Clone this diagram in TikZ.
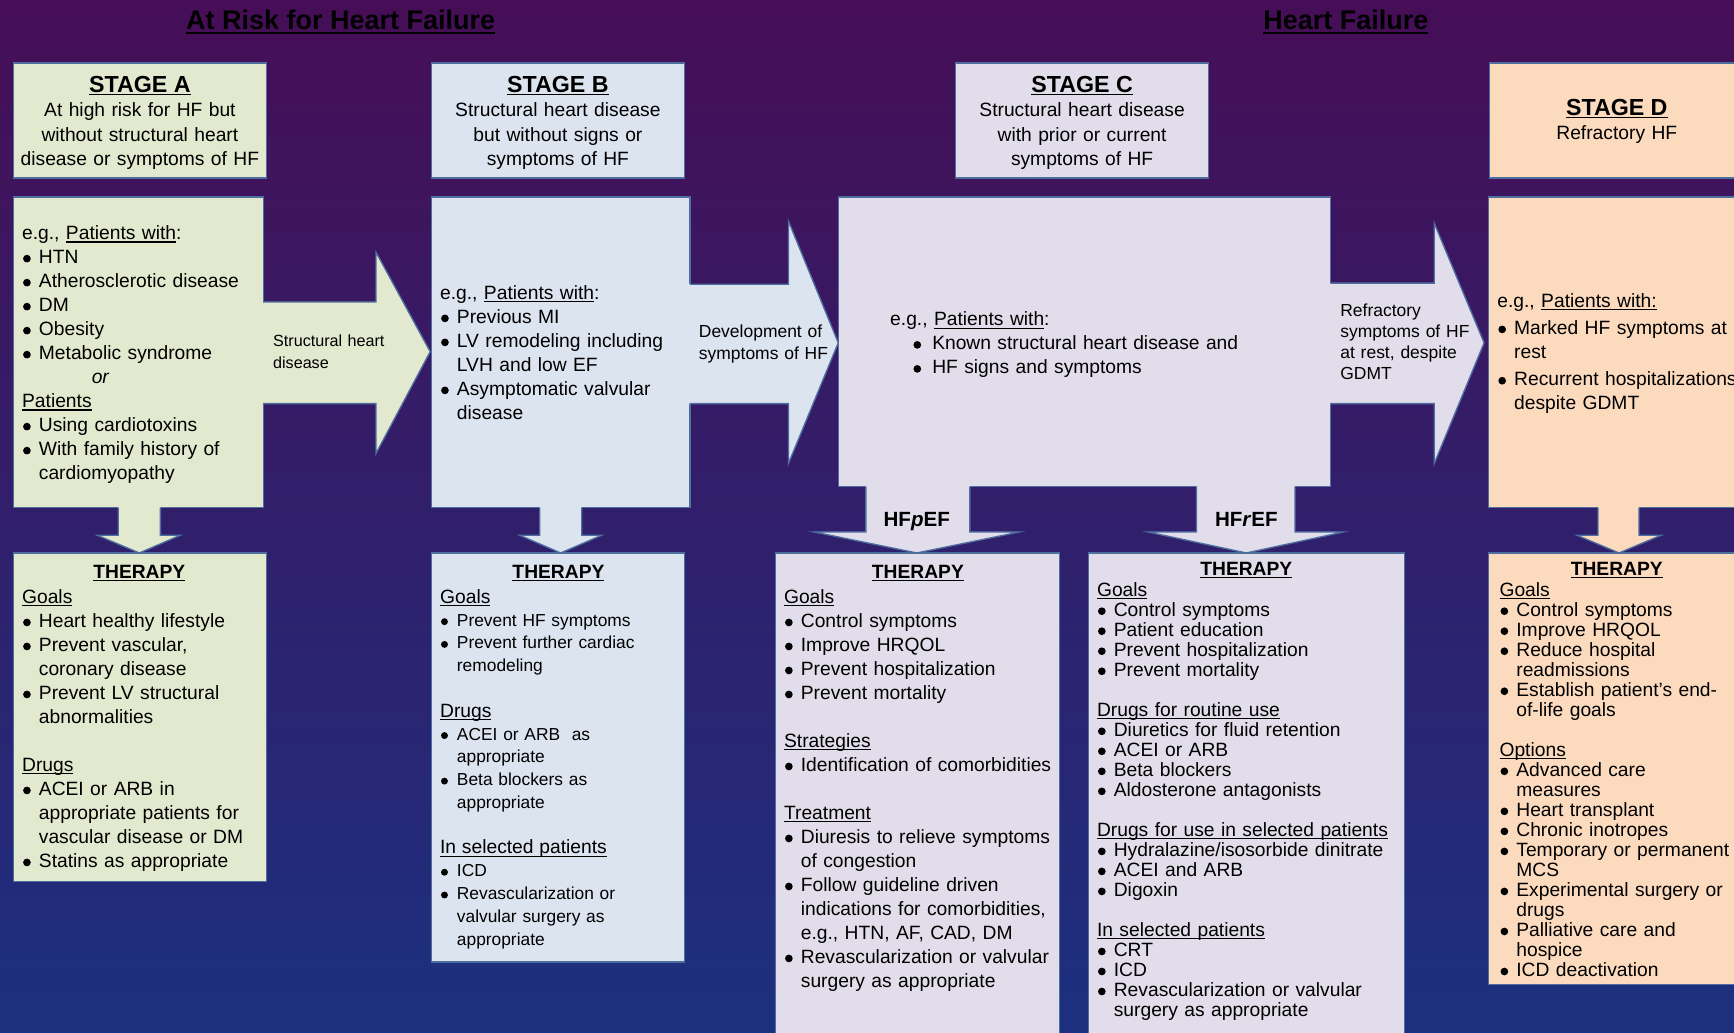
\documentclass[tikz,border=0pt]{standalone}
\usepackage{fontspec}
\setmainfont{Liberation Sans}
\usetikzlibrary{fit}

\definecolor{bgtop}{RGB}{70,14,86}
\definecolor{bgmid}{RGB}{48,24,98}
\definecolor{bgbot}{RGB}{28,48,128}
\definecolor{cA}{RGB}{226,233,207}
\definecolor{cB}{RGB}{220,228,240}
\definecolor{cC}{RGB}{226,221,234}
\definecolor{cD}{RGB}{252,218,190}
\definecolor{edge}{RGB}{79,110,160}

\newlength\bi \setlength\bi{7.6pt}
\newcommand\tp{\rule{0pt}{8pt}}
\newcommand\uln[2][0.5pt]{\setbox0\hbox{#2}\rlap{\rule[-1.3pt]{\wd0}{#1}}\box0}
\newcommand\ulnb[1]{\setbox0\hbox{#1}\rlap{\rule[-2pt]{\wd0}{0.9pt}}\box0}
\newcommand\bdot{\raisebox{0.06em}{\tikz\fill[black] (0,0) circle[radius=0.2em];}}
\newcommand\lnx[1]{\par\noindent#1}
\newcommand\bul[1]{\par\noindent\makebox[\bi][l]{\hspace{0.05em}\bdot}#1}
\newcommand\bulC[1]{\par\noindent\hspace*{10.5pt}\makebox[8.5pt][l]{\bdot}#1}
\newcommand\cnt[1]{\par\noindent\hspace*{\bi}#1}
\newcommand\blank{\par\noindent\mbox{}}
\newcommand\fbody{\fontsize{8.7}{10.85}\selectfont}
\newcommand\fhead{\fontsize{8.7}{11}\selectfont}
\newcommand\ftight{\fontsize{8.7}{9.05}\selectfont}
\newcommand\fsmall{\fontsize{7.85}{10.3}\selectfont}
\newcommand\fhd{\fontsize{8.7}{10.3}\selectfont}
\newcommand\fstage{\fontsize{10.5}{11}\selectfont\bfseries}
\newcommand\ftitle{\fontsize{12.2}{14}\selectfont\bfseries}

\tikzset{
  bx/.style={draw=edge, line width=0.6pt, inner sep=0pt, outer sep=0pt},
  tb/.style={anchor=north west, inner sep=0pt, outer sep=0pt, text width=220pt, align=left, font=\fbody},
  hd/.style={anchor=north, inner sep=0pt, outer sep=0pt, text width=125pt, align=center, font=\fhead},
  lab/.style={anchor=north west, inner sep=0pt, outer sep=0pt, text width=80pt, align=left},
  arr/.style={draw=edge, line width=0.6pt},
  thr/.style={anchor=base, inner sep=0pt, font=\fbody\bfseries},
}

\begin{document}
\begin{tikzpicture}[x=0.5pt,y=-0.5pt]
\useasboundingbox (0,0) rectangle (1568,934);
\clip (0,0) rectangle (1568,934);
\shade[top color=bgtop, middle color=bgmid, bottom color=bgbot] (0,0) rectangle (1568,934);

% titles
\node[anchor=base, font=\ftitle, inner sep=0pt] (t1) at (308,27) {\ulnb{At Risk for Heart Failure}};
\node[anchor=base, font=\ftitle, inner sep=0pt] (t2) at (1217,27) {\ulnb{Heart Failure}};

% header boxes
\node[bx, fill=cA, fit={(12,57)(241,161)}] (hA) {};
\node[bx, fill=cB, fit={(390,57)(619,161)}] (hB) {};
\node[bx, fill=cC, fit={(864,57)(1093,161)}] (hC) {};
\node[bx, fill=cD, fit={(1347,57)(1600,161)}] (hD) {};

% content boxes
\node[bx, fill=cA, fit={(12,178)(238,459)}] (cA) {};
\node[bx, fill=cB, fit={(390,178)(624,459)}] (cB) {};
\node[bx, fill=cC, fit={(758,178)(1203,440)}] (cC) {};
\node[bx, fill=cD, fit={(1346,178)(1600,459)}] (cD) {};

% therapy boxes
\node[bx, fill=cA, fit={(12,500)(241,797)}] (thA) {};
\node[bx, fill=cB, fit={(390,500)(619,870)}] (thB) {};
\node[bx, fill=cC, fit={(701,500)(958,960)}] (thP) {};
\node[bx, fill=cC, fit={(984,500)(1270,960)}] (thR) {};
\node[bx, fill=cD, fit={(1346,500)(1600,890)}] (thD) {};

% horizontal block arrows
\fill[cA] (236,273) -- (340,273) -- (340,228) -- (389,318) -- (340,410) -- (340,365) -- (236,365) -- cycle;
\draw[arr] (238,273) -- (340,273) -- (340,228) -- (389,318) -- (340,410) -- (340,365) -- (238,365);
\fill[cB] (622,257) -- (713,257) -- (713,200) -- (758,310) -- (713,419) -- (713,365) -- (622,365) -- cycle;
\draw[arr] (624,257) -- (713,257) -- (713,200) -- (758,310) -- (713,419) -- (713,365) -- (624,365);
\fill[cC] (1201,256) -- (1297,256) -- (1297,202) -- (1342,310) -- (1297,419) -- (1297,365) -- (1201,365) -- cycle;
\draw[arr] (1203,256) -- (1297,256) -- (1297,202) -- (1342,310) -- (1297,419) -- (1297,365) -- (1203,365);

% vertical block arrows
\fill[cA] (107,457) -- (107,484) -- (88,484) -- (126,500) -- (163,484) -- (145,484) -- (145,457) -- cycle;
\draw[arr] (107,459) -- (107,484) -- (88,484) -- (126,500) -- (163,484) -- (145,484) -- (145,459);
\fill[cB] (488,457) -- (488,484) -- (470,484) -- (507,500) -- (544,484) -- (526,484) -- (526,457) -- cycle;
\draw[arr] (488,459) -- (488,484) -- (470,484) -- (507,500) -- (544,484) -- (526,484) -- (526,459);
\fill[cC] (783,438) -- (783,481) -- (736,481) -- (829,500) -- (922,481) -- (877,481) -- (877,438) -- cycle;
\draw[arr] (783,440) -- (783,481) -- (736,481) -- (829,500) -- (922,481) -- (877,481) -- (877,440);
\fill[cC] (1082,438) -- (1082,481) -- (1038,481) -- (1127,500) -- (1215,481) -- (1171,481) -- (1171,438) -- cycle;
\draw[arr] (1082,440) -- (1082,481) -- (1038,481) -- (1127,500) -- (1215,481) -- (1171,481) -- (1171,440);
\fill[cD] (1445,457) -- (1445,484) -- (1426,484) -- (1464,500) -- (1502,484) -- (1482,484) -- (1482,457) -- cycle;
\draw[arr] (1445,459) -- (1445,484) -- (1426,484) -- (1464,500) -- (1502,484) -- (1482,484) -- (1482,459);

% arrow labels
\node[lab, font=\fontsize{7.3}{10}\selectfont] (lAB) at (247,297) {\tp Structural heart\\disease};
\node[lab, font=\fontsize{7.9}{10}\selectfont] (lBC) at (632,289) {\tp Development of\\symptoms of HF};
\node[lab, font=\fontsize{7.9}{9.6}\selectfont] (lCD) at (1212,270) {\tp Refractory\\symptoms of HF\\at rest, despite\\GDMT};
\node[anchor=base, inner sep=0pt, font=\fontsize{9.3}{11}\selectfont\bfseries] (lP) at (829,476) {HF\textit{p}EF};
\node[anchor=base, inner sep=0pt, font=\fontsize{9.3}{11}\selectfont\bfseries] (lR) at (1127,476) {HF\textit{r}EF};

% header texts
\node[hd] (xA) at (126.5,67.5) {\tp{\fstage\uln[0.7pt]{STAGE A}}\\At high risk for HF but\\without structural heart\\disease or symptoms of HF};
\node[hd] (xB) at (504.5,67.5) {\tp{\fstage\uln[0.7pt]{STAGE B}}\\Structural heart disease\\but without signs or\\symptoms of HF};
\node[hd] (xC) at (978.5,67.5) {\tp{\fstage\uln[0.7pt]{STAGE C}}\\Structural heart disease\\with prior or current\\symptoms of HF};
\node[hd] (xD) at (1462,88.5) {\tp{\fstage\uln[0.7pt]{STAGE D}}\\Refractory HF};

% content texts
\node[tb] (tA) at (20,195) {%
\lnx{\tp e.g., \uln{Patients with}:}
\bul{HTN}
\bul{Atherosclerotic disease}
\bul{DM}
\bul{Obesity}
\bul{Metabolic syndrome}
\lnx{\hspace*{31.5pt}\textit{or}}
\lnx{\uln{Patients}}
\bul{Using cardiotoxins}
\bul{With family history of}
\cnt{cardiomyopathy}};

\node[tb] (tB) at (398,249) {%
\lnx{\tp e.g., \uln{Patients with}:}
\bul{Previous MI}
\bul{LV remodeling including}
\cnt{LVH and low EF}
\bul{Asymptomatic valvular}
\cnt{disease}};

\node[tb] (tC) at (805,273) {%
\lnx{\tp e.g., \uln{Patients with}:}
\bulC{Known structural heart disease and}
\bulC{HF signs and symptoms}};

\node[tb] (tD) at (1354,256) {%
\lnx{\tp e.g., \uln{Patients with:}}\par\vspace{1.5pt}
\bul{Marked HF symptoms at}
\cnt{rest}\par\vspace{1.5pt}
\bul{Recurrent hospitalizations}
\cnt{despite GDMT}};

% therapy titles
\node[thr] (TA) at (126,523) {\uln[0.6pt]{THERAPY}};
\node[thr] (TB) at (505,523) {\uln[0.6pt]{THERAPY}};
\node[thr] (TP) at (830,523) {\uln[0.6pt]{THERAPY}};
\node[thr] (TR) at (1127,520) {\uln[0.6pt]{THERAPY}};
\node[thr] (TD) at (1462,520) {\uln[0.6pt]{THERAPY}};

% therapy texts
\node[tb] (gA) at (20,524) {%
\lnx{\tp\uln{Goals}}
\bul{Heart healthy lifestyle}
\bul{Prevent vascular,}
\cnt{coronary disease}
\bul{Prevent LV structural}
\cnt{abnormalities}
\blank
\lnx{\uln{Drugs}}
\bul{ACEI or ARB in}
\cnt{appropriate patients for}
\cnt{vascular disease or DM}
\bul{Statins as appropriate}};

\node[tb, font=\fsmall] (gB) at (398,525) {%
\lnx{\tp\uln{\fhd Goals}}
\bul{Prevent HF symptoms}
\bul{Prevent further cardiac}
\cnt{remodeling}
\blank
\lnx{\uln{\fhd Drugs}}
\bul{ACEI or ARB\ \ as}
\cnt{appropriate}
\bul{Beta blockers as}
\cnt{appropriate}
\blank
\lnx{\uln{\fhd In selected patients}}
\bul{ICD}
\bul{Revascularization or}
\cnt{valvular surgery as}
\cnt{appropriate}};

\node[tb] (gP) at (709,524) {%
\lnx{\tp\uln{Goals}}
\bul{Control symptoms}
\bul{Improve HRQOL}
\bul{Prevent hospitalization}
\bul{Prevent mortality}
\blank
\lnx{\uln{Strategies}}
\bul{Identification of comorbidities}
\blank
\lnx{\uln{Treatment}}
\bul{Diuresis to relieve symptoms}
\cnt{of congestion}
\bul{Follow guideline driven}
\cnt{indications for comorbidities,}
\cnt{e.g., HTN, AF, CAD, DM}
\bul{Revascularization or valvular}
\cnt{surgery as appropriate}};

\node[tb, font=\ftight] (gR) at (992,521) {%
\lnx{\tp\uln{Goals}}
\bul{Control symptoms}
\bul{Patient education}
\bul{Prevent hospitalization}
\bul{Prevent mortality}
\blank
\lnx{\uln{Drugs for routine use}}
\bul{Diuretics for fluid retention}
\bul{ACEI or ARB}
\bul{Beta blockers}
\bul{Aldosterone antagonists}
\blank
\lnx{\uln{Drugs for use in selected patients}}
\bul{Hydralazine/isosorbide dinitrate}
\bul{ACEI and ARB}
\bul{Digoxin}
\blank
\lnx{\uln{In selected patients}}
\bul{CRT}
\bul{ICD}
\bul{Revascularization or valvular}
\cnt{surgery as appropriate}};

\node[tb, font=\ftight] (gD) at (1356,521) {%
\lnx{\tp\uln{Goals}}
\bul{Control symptoms}
\bul{Improve HRQOL}
\bul{Reduce hospital}
\cnt{readmissions}
\bul{Establish patient’s end-}
\cnt{of-life goals}
\blank
\lnx{\uln{Options}}
\bul{Advanced care}
\cnt{measures}
\bul{Heart transplant}
\bul{Chronic inotropes}
\bul{Temporary or permanent}
\cnt{MCS}
\bul{Experimental surgery or}
\cnt{drugs}
\bul{Palliative care and}
\cnt{hospice}
\bul{ICD deactivation}};
\end{tikzpicture}
\end{document}
